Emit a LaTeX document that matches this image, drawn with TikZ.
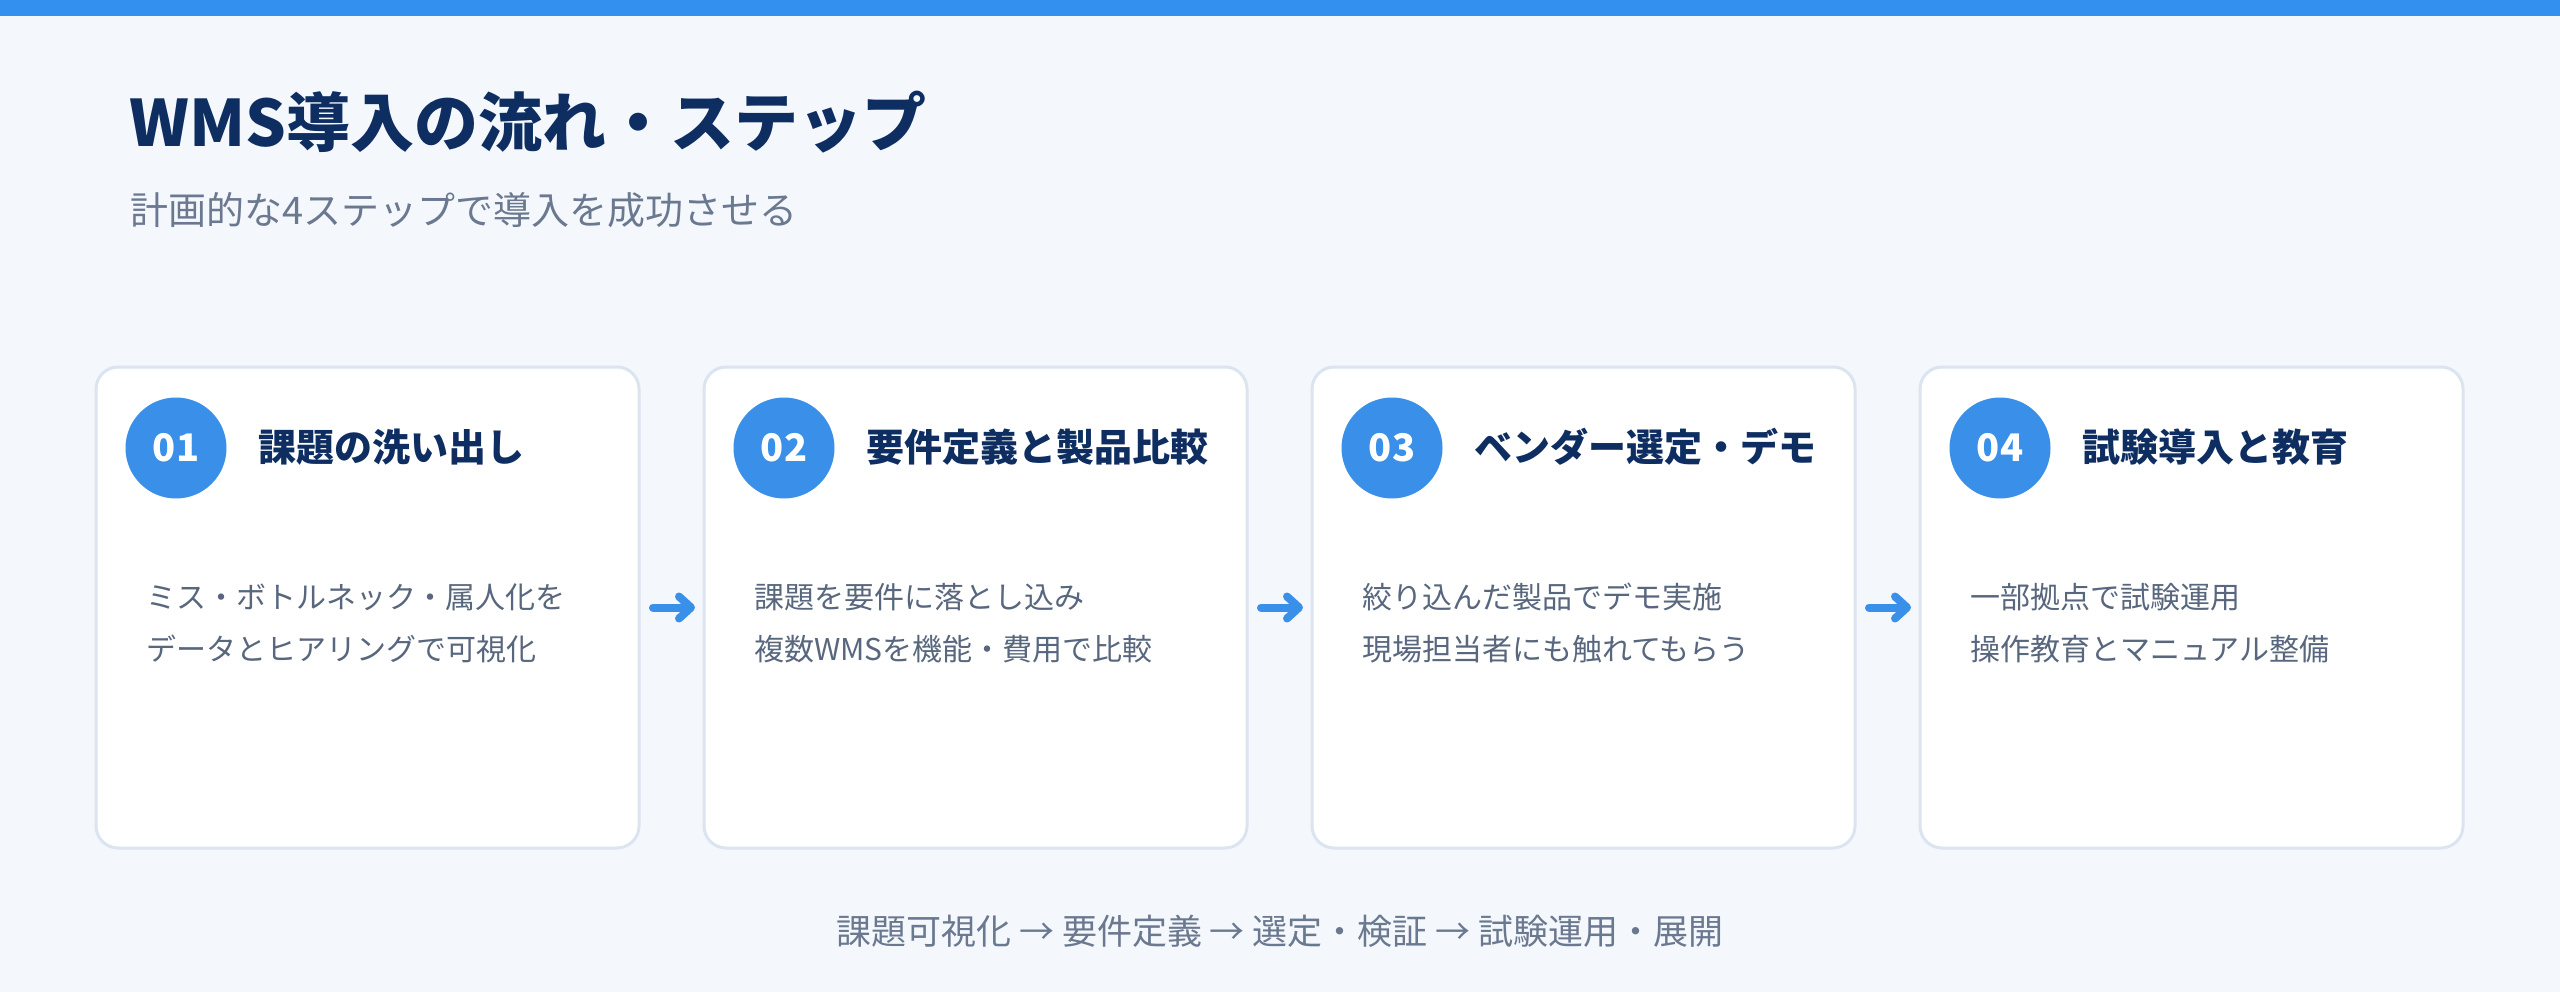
\documentclass[tikz,border=0pt]{standalone}
\usepackage{fontspec}
\setmainfont{Noto Sans CJK JP}
\usetikzlibrary{arrows.meta}
\definecolor{bg}{HTML}{F4F8FC}
\definecolor{topbar}{HTML}{3390EE}
\definecolor{accent}{HTML}{3A8FE9}
\definecolor{navy}{HTML}{0E2E62}
\definecolor{bodytext}{HTML}{58677E}
\definecolor{subtext}{HTML}{6B7990}
\definecolor{cardline}{HTML}{DBE4EF}
\begin{document}
\begin{tikzpicture}[x=1pt,y=-1pt,
  card/.style={draw=cardline, line width=3pt, fill=white, rounded corners=22pt, minimum width=543pt, minimum height=481pt, inner sep=0pt, outer sep=0pt},
  num/.style={circle, fill=accent, minimum size=101pt, inner sep=0pt, text=white, font=\fontsize{38}{46}\selectfont\bfseries},
  steptitle/.style={anchor=base west, text=navy, font=\fontsize{38}{46}\selectfont\bfseries, inner sep=0pt},
  bodyline/.style={anchor=base west, text=bodytext, font=\fontsize{30}{36}\selectfont, inner sep=0pt},
  flow/.style={draw=accent, line width=8pt, line cap=round, -{Straight Barb[length=12pt, width=22pt, round]}},
]
\fill[bg] (0,0) rectangle (2560,992);
\fill[topbar] (0,0) rectangle (2560,16);
\useasboundingbox (0,0) rectangle (2560,992);
\node[anchor=base west, text=navy, font=\fontsize{64}{76}\selectfont\bfseries, inner sep=0pt] (title) at (129,147) {WMS導入の流れ・ステップ};
\node[anchor=base west, text=subtext, font=\fontsize{38}{46}\selectfont, inner sep=0pt] (subtitle) at (130,225) {計画的な4ステップで導入を成功させる};
\foreach \i/\t/\a/\b [count=\k from 0] in {
  01/課題の洗い出し/ミス・ボトルネック・属人化を/データとヒアリングで可視化,
  02/要件定義と製品比較/課題を要件に落とし込み/複数WMSを機能・費用で比較,
  03/ベンダー選定・デモ/絞り込んだ製品でデモ実施/現場担当者にも触れてもらう,
  04/試験導入と教育/一部拠点で試験運用/操作教育とマニュアル整備}
{
  \node[card] (c\i) at (367.5+608*\k, 607.5) {};
  \node[num] (n\i) at (176+608*\k, 448) {\i};
  \node[steptitle] (t\i) at (258+608*\k, 461) {\t};
  \node[bodyline] (a\i) at (146+608*\k, 608) {\a};
  \node[bodyline] (b\i) at (146+608*\k, 660) {\b};
}
\draw[flow] ([xshift=14pt]c01.east) -- ([xshift=-9pt]c02.west);
\draw[flow] ([xshift=14pt]c02.east) -- ([xshift=-9pt]c03.west);
\draw[flow] ([xshift=14pt]c03.east) -- ([xshift=-9pt]c04.west);
\node[anchor=base, text=subtext, font=\fontsize{35}{42}\selectfont, inner sep=0pt] (summary) at (1280,944) {課題可視化 → 要件定義 → 選定・検証 → 試験運用・展開};
\end{tikzpicture}
\end{document}
